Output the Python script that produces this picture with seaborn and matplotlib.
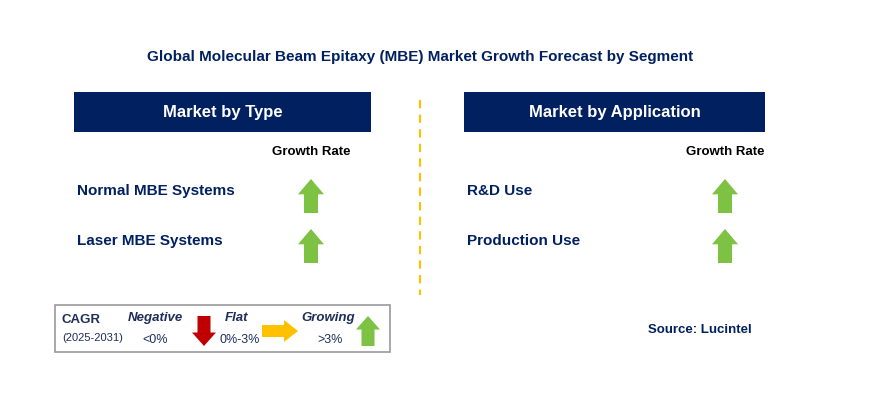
import matplotlib
matplotlib.use("Agg")
import matplotlib.pyplot as plt
from matplotlib.patches import Rectangle, Polygon
import seaborn as sns

title = "Global Molecular Beam Epitaxy (MBE) Market Growth Forecast by Segment"
panel_titles = ["Market by Type", "Market by Application"]
type_items = ["Normal MBE Systems", "Laser MBE Systems"]
app_items = ["R&D Use", "Production Use"]
type_growth = ["up", "up"]
app_growth = ["up", "up"]
legend_labels = ["Negative", "Flat", "Growing"]
legend_ranges = ["<0%", "0%-3%", ">3%"]
source = "Source: Lucintel"

sns.set_theme(style="white", font="Liberation Sans")
NAVY = "#002060"
GREEN = "#7dc242"
RED = "#c00000"
ORANGE = "#ffc000"

fig = plt.figure(figsize=(8.93, 4.0), dpi=100)
ax = fig.add_axes([0, 0, 1, 1])
ax.set_xlim(0, 893); ax.set_ylim(400, 0); ax.axis("off")

def arrow(cx, cy, d, L=34, W=22, sw=11, hl=None, color=GREEN):
    h = hl if hl else L * 0.45
    if d == "up":
        t, b = cy - L/2, cy + L/2
        pts = [(cx, t), (cx+W/2, t+h), (cx+sw/2, t+h), (cx+sw/2, b), (cx-sw/2, b), (cx-sw/2, t+h), (cx-W/2, t+h)]
    elif d == "down":
        t, b = cy - L/2, cy + L/2
        pts = [(cx, b), (cx+W/2, b-h), (cx+sw/2, b-h), (cx+sw/2, t), (cx-sw/2, t), (cx-sw/2, b-h), (cx-W/2, b-h)]
    else:
        l, r = cx - L/2, cx + L/2
        pts = [(r, cy), (r-h, cy-W/2), (r-h, cy-sw/2), (l, cy-sw/2), (l, cy+sw/2), (r-h, cy+sw/2), (r-h, cy+W/2)]
    ax.add_patch(Polygon(pts, closed=True, color=color, lw=0))

ax.text(420, 57, title, ha="center", va="center", fontsize=11, fontweight="bold", color=NAVY)

panels = [(74, 297, 77, 311, type_items, type_growth), (464, 301, 467, 725, app_items, app_growth)]
for (x0, w, tx, ax_x, items, growth), pt in zip(panels, panel_titles):
    ax.add_patch(Rectangle((x0, 92), w, 40, color=NAVY, lw=0))
    ax.text(x0 + w/2, 112, pt, ha="center", va="center", fontsize=12, fontweight="bold", color="white")
    ax.text(ax_x, 152, "Growth Rate", ha="center", va="center", fontsize=9.5, fontweight="bold", color="black")
    for i, (it, g) in enumerate(zip(items, growth)):
        y = 191 + 50*i
        ax.text(tx, y, it, ha="left", va="center", fontsize=11, fontweight="bold", color=NAVY)
        arrow(ax_x, y + 5, g, L=34, W=26, sw=14)

ax.plot([420, 420], [100, 295], ls=(0, (4, 3)), color=ORANGE, lw=1.5)

ax.add_patch(Rectangle((55, 305), 335, 47, fill=False, ec="#999999", lw=1.2))
ax.text(62, 320, "CAGR", ha="left", va="center", fontsize=9.5, fontweight="bold", color="#1f2d5a")
ax.text(62, 338, "(2025-2031)", ha="left", va="center", fontsize=8, color="#1f2d5a")
lx = [155, 237, 328]
rx = [155, 240, 330]
for x, x2, lab, rg in zip(lx, rx, legend_labels, legend_ranges):
    ax.text(x, 318, lab, ha="center", va="center", fontsize=9.5, fontweight="bold", style="italic", color="#1f2d5a")
    ax.text(x2, 340, rg, ha="center", va="center", fontsize=9, color="#1f2d5a")
arrow(204, 331, "down", L=30, W=24, sw=13, color=RED)
arrow(280, 331, "right", L=36, W=22, sw=12, hl=14, color=ORANGE)
arrow(368, 331, "up", L=30, W=24, sw=13, color=GREEN)

ax.text(700, 330, source, ha="center", va="center", fontsize=9.5, fontweight="bold", color=NAVY)

fig.savefig("out.png", dpi=100, facecolor="white")
